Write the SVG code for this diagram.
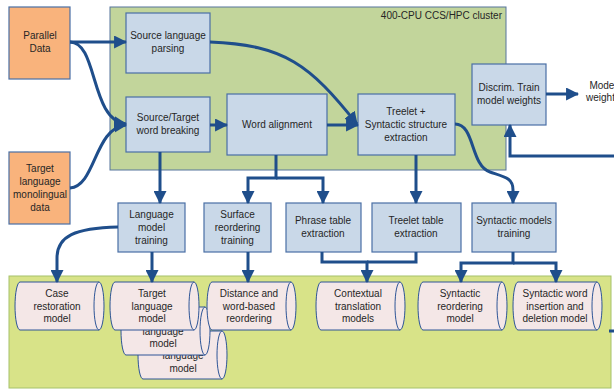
<svg xmlns="http://www.w3.org/2000/svg" width="614" height="390" viewBox="0 0 614 390">
<style>
text{font-family:"Liberation Sans",Arial,sans-serif;font-size:10px;fill:#262626;text-anchor:middle}
.box{fill:#C9D8E8;stroke:#4A6FA5;stroke-width:1.2}
.src{fill:#F9B37C;stroke:#4A6FA5;stroke-width:1.2}
.cyl{fill:#F4E7E7;stroke:#2E5597;stroke-width:1}
.ar{fill:none;stroke:#1F4E8B;stroke-width:3}
.arm{fill:none;stroke:#1F4E8B;stroke-width:3;marker-end:url(#ah)}
</style>
<defs>
<marker id="ah" markerUnits="userSpaceOnUse" markerWidth="13" markerHeight="13" viewBox="0 0 12 12" refX="11" refY="6" orient="auto">
<path d="M0,0 L12,6 L0,12 Z" fill="#1F4E8B"/>
</marker>
<g id="cyl">
<path class="cyl" d="M5,0 H84 A5,24 0 0 1 84,48 H5 A5,24 0 0 1 5,0 Z"/>
<path class="cyl" fill="none" d="M84,0 A5,24 0 0 0 84,48"/>
</g>
</defs>
<rect width="614" height="390" fill="#fff"/>
<g id="cluster">
<rect x="110" y="7" width="396" height="163" fill="#C2D59B" stroke="#56759C" stroke-width="1"/>
<text x="502" y="19" style="text-anchor:end">400-CPU CCS/HPC cluster</text>
</g>
<g id="models-area">
<rect x="9" y="276" width="602" height="112" fill="#D8E388" stroke="#A6C26A" stroke-width="1"/>
</g>
<g id="parallel-data">
<rect class="src" x="9" y="7" width="61" height="72"/>
<text x="40" y="39">Parallel</text><text x="40" y="52">Data</text>
</g>
<g id="target-mono">
<rect class="src" x="9" y="152" width="61" height="72"/>
<text x="40" y="172">Target</text><text x="40" y="185">language</text><text x="40" y="198">monolingual</text><text x="40" y="211">data</text>
</g>
<g id="src-parsing">
<rect class="box" x="126" y="13" width="84" height="60"/>
<text x="168" y="39">Source language</text><text x="168" y="52">parsing</text>
</g>
<g id="word-breaking">
<rect class="box" x="126" y="97" width="84" height="55"/>
<text x="168" y="121">Source/Target</text><text x="168" y="134">word breaking</text>
</g>
<g id="word-alignment">
<rect class="box" x="227" y="94" width="100" height="61"/>
<text x="277" y="128">Word alignment</text>
</g>
<g id="treelet-extraction">
<rect class="box" x="358" y="94" width="97" height="61"/>
<text x="406" y="115">Treelet +</text><text x="406" y="128">Syntactic structure</text><text x="406" y="141">extraction</text>
</g>
<g id="discrim-train">
<rect class="box" x="472" y="64" width="74" height="61"/>
<text x="509" y="91">Discrim. Train</text><text x="509" y="104">model weights</text>
</g>
<g id="model-weights">
<text x="603" y="89">Model</text><text x="603" y="101">weights</text>
</g>
<g id="lm-training">
<rect class="box" x="118" y="203" width="67" height="49"/>
<text x="151.5" y="218">Language</text><text x="151.5" y="231">model</text><text x="151.5" y="244">training</text>
</g>
<g id="surface-reordering">
<rect class="box" x="204" y="203" width="67" height="49"/>
<text x="237.5" y="218">Surface</text><text x="237.5" y="231">reordering</text><text x="237.5" y="244">training</text>
</g>
<g id="phrase-table">
<rect class="box" x="286" y="203" width="75" height="49"/>
<text x="323" y="224">Phrase table</text><text x="323" y="237">extraction</text>
</g>
<g id="treelet-table">
<rect class="box" x="372" y="203" width="89" height="49"/>
<text x="416" y="224">Treelet table</text><text x="416" y="237">extraction</text>
</g>
<g id="syntactic-training">
<rect class="box" x="472" y="203" width="84" height="49"/>
<text x="514" y="224">Syntactic models</text><text x="514" y="237">training</text>
</g>
<g id="case-restoration">
<use href="#cyl" x="15" y="282"/>
<text x="57" y="297">Case</text><text x="57" y="310">restoration</text><text x="57" y="322">model</text>
</g>
<g id="target-lm-3">
<use href="#cyl" x="138" y="331"/>
<text x="183" y="359">language</text><text x="183" y="372">model</text>
</g>
<g id="target-lm-2">
<use href="#cyl" x="121" y="307"/>
<text x="163" y="335">language</text><text x="163" y="347">model</text>
</g>
<g id="target-lm">
<use href="#cyl" x="110" y="282"/>
<text x="152" y="297">Target</text><text x="152" y="310">language</text><text x="152" y="322">model</text>
</g>
<g id="distance-reordering">
<use href="#cyl" x="207" y="282"/>
<text x="249" y="297">Distance and</text><text x="249" y="310">word-based</text><text x="249" y="322">reordering</text>
</g>
<g id="contextual-models">
<use href="#cyl" x="316" y="282"/>
<text x="358" y="297">Contextual</text><text x="358" y="310">translation</text><text x="358" y="322">models</text>
</g>
<g id="syntactic-reordering">
<use href="#cyl" x="418" y="282"/>
<text x="460" y="297">Syntactic</text><text x="460" y="310">reordering</text><text x="460" y="322">model</text>
</g>
<g id="syntactic-insertion">
<use href="#cyl" x="513" y="282"/>
<text x="555" y="297">Syntactic word</text><text x="555" y="310">insertion and</text><text x="555" y="322">deletion model</text>
</g>
<g id="connectors">
<path class="arm" d="M70,42 H126"/>
<path class="arm" d="M70,42 C98,42 90,120 126,124"/>
<path class="arm" d="M70,188 C96,186 94,128 126,125"/>
<path class="arm" d="M210,125 H227"/>
<path class="arm" d="M210,42 C285,45 310,65 357,124"/>
<path class="arm" d="M327,125 H358"/>
<path class="arm" d="M546,94 H578"/>
<path class="arm" d="M160,152 V203"/>
<path class="arm" d="M276,155 V178 H248 V203"/>
<path class="arm" d="M276,178 H323 V203"/>
<path class="arm" d="M416,155 V203"/>
<path class="arm" d="M455,124 C475,124 470,165 490,172 C505,177 513,178 513,190 V203"/>
<path class="arm" d="M614,156 H510 V125"/>
<path class="arm" d="M118,227 C75,228 57,236 57,258 V282"/>
<path class="arm" d="M152,252 V282"/>
<path class="arm" d="M248,252 V282"/>
<path class="arm" d="M322,252 V262 H367 V282"/>
<path class="ar" d="M416,252 V262 H367"/>
<path class="arm" d="M513,252 V263 H461 V282"/>
<path class="arm" d="M513,263 H556 V282"/>
<path class="ar" d="M609,331 H614"/>
</g>
</svg>
